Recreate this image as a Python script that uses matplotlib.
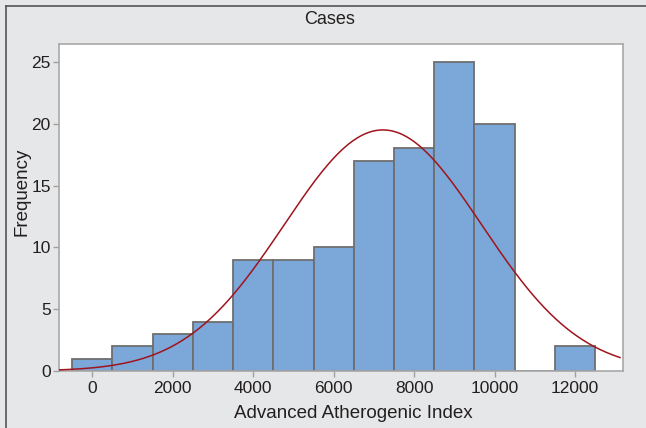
import numpy as np
import matplotlib
matplotlib.use("Agg")
import matplotlib.pyplot as plt
from matplotlib.lines import Line2D

########## Data ##########
bin_centers = [0, 1000, 2000, 3000, 4000, 5000, 6000, 7000, 8000, 9000, 10000, 11000, 12000]
counts = [1, 2, 3, 4, 9, 9, 10, 17, 18, 25, 20, 0, 2]
bin_width = 1000
# fitted normal (Minitab style fit line)
fit_mean = 7225
fit_sd = 2455
xticks = [0, 2000, 4000, 6000, 8000, 10000, 12000]
yticks = [0, 5, 10, 15, 20, 25]

########## Plot ##########
plt.rcParams['font.family'] = ['Liberation Sans', 'DejaVu Sans']
bg = "#E6E7E8"
txt = "#231F20"
W, H = 646, 428

fig = plt.figure(figsize=(6.46, 4.28), dpi=100)
fig.patch.set_facecolor(bg)
ax = fig.add_axes([59/W, 57/H, 564/W, 327/H])
ax.set_facecolor("white")

ax.bar(bin_centers, counts, width=bin_width, color="#7BA7D9",
       edgecolor="#6E6E70", linewidth=1.3, zorder=2)

n = sum(counts)
xs = np.linspace(-830, 13120, 400)
ys = n * bin_width / (fit_sd * np.sqrt(2 * np.pi)) * np.exp(-0.5 * ((xs - fit_mean) / fit_sd) ** 2)
ax.plot(xs, ys, color="#A0141E", linewidth=1.1, zorder=3)

ax.set_xlim(-830, 13195)
ax.set_ylim(0, 26.45)
ax.set_xticks(xticks)
ax.set_yticks(yticks)
ax.tick_params(colors="#A0A0A0", labelcolor=txt, labelsize=12.5, length=4, width=1)
ax.tick_params(axis="y", pad=2)
for s in ax.spines.values():
    s.set_color("#A8A8A8")
    s.set_linewidth(1.2)

fig.text(353/W, 1 - 413/H, "Advanced Atherogenic Index", ha="center", va="center",
         fontsize=13.5, color=txt)
fig.text(22/W, 1 - 192/H, "Frequency", ha="center", va="center", rotation=90,
         fontsize=13.5, color=txt)
fig.text(330/W, 1 - 19.5/H, "Cases", ha="center", va="center", fontsize=13, color=txt)

# outer frame (left and top)
fig.add_artist(Line2D([6/W, 6/W], [0, 1 - 6/H], transform=fig.transFigure, color="#555555", linewidth=1.2))
fig.add_artist(Line2D([6/W, 1.01], [1 - 6/H, 1 - 6/H], transform=fig.transFigure, color="#555555", linewidth=1.2))

fig.savefig("out.png", dpi=100, facecolor=bg)
